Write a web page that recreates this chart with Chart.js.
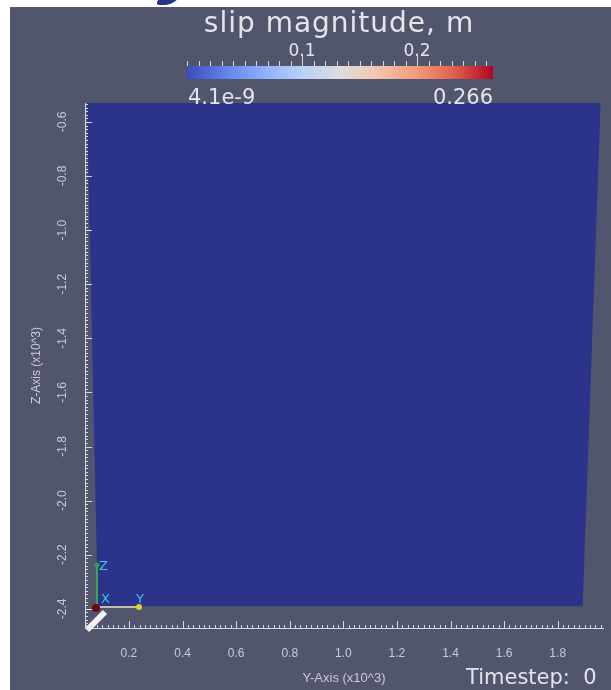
<!DOCTYPE html>
<html><head><meta charset="utf-8">
<script src="https://cdn.jsdelivr.net/npm/chart.js@4"></script>
<style>
html,body{margin:0;padding:0;background:#fff;}
body{width:611px;height:690px;position:relative;overflow:hidden;font-family:"DejaVu Sans",sans-serif;}
#c{position:absolute;left:0;top:0;display:block;}
.abs{position:absolute;white-space:pre;}
.strip{position:absolute;background:#fff;}
#swoosh{position:absolute;left:158px;top:-5px;width:20px;height:10px;background:#26358c;border-radius:0 0 12px 4px;transform:skewX(-25deg);}
.txt{color:#e4e4ea;line-height:1;}
#cbbar{position:absolute;left:187px;top:66px;width:306px;height:13px;
background:linear-gradient(to right,rgb(59,76,192) 0%,rgb(98,130,234) 12.5%,rgb(141,176,254) 25%,rgb(184,208,249) 37.5%,rgb(221,221,221) 50%,rgb(245,196,173) 62.5%,rgb(244,154,123) 75%,rgb(222,96,77) 87.5%,rgb(180,4,38) 100%);}
.cbtick{position:absolute;width:1px;background:#d8d8e0;}
</style></head>
<body>
<canvas id="c" width="611" height="690"></canvas>
<div class="strip" style="left:0;top:0;width:611px;height:7px"></div>
<div class="strip" style="left:0;top:0;width:10px;height:690px"></div>
<div id="swoosh"></div>
<div id="cb"></div>
<script>
// ---- data (Y-axis and Z-axis in units of 10^3) ----
const sliceY = [0.043, 1.960, 1.893, 0.084];   // corners of the fault slice, Y coordinate
const sliceZ = [-0.530, -0.530, -2.391, -2.391]; // corners of the fault slice, Z coordinate
const yAxisTicks = [0.2, 0.4, 0.6, 0.8, 1.0, 1.2, 1.4, 1.6, 1.8];
const zAxisTicks = [-0.6, -0.8, -1.0, -1.2, -1.4, -1.6, -1.8, -2.0, -2.2, -2.4];
const yAxisRange = [0.036, 1.969];
const zAxisRange = [-2.471, -0.530];
const colorRange = [4.1e-9, 0.266];
const colorTicks = [0.1, 0.2];
const colorLabels = ['4.1e-9', '0.266'];
const timestep = 0;

// ---- colour bar (HTML) ----
const cb = document.getElementById('cb');
const barL = 187, barW = 306;
const cpx = v => barL + (v - colorRange[0]) / (colorRange[1] - colorRange[0]) * barW;
function add(html, style, cls){ const d=document.createElement('div'); d.className=cls||'abs txt'; d.textContent=html; Object.assign(d.style, style); cb.appendChild(d); return d; }
add('slip magnitude, m', {left:'0px', top:'9px', width:'678px', textAlign:'center', fontSize:'28px', letterSpacing:'1px'});
const bar = document.createElement('div'); bar.id='cbbar'; cb.appendChild(bar);
for (let i = 0; i <= 26; i++) {
  const v = i * 0.01;
  const major = colorTicks.some(t => Math.abs(t - v) < 1e-9);
  const t = document.createElement('div'); t.className='cbtick';
  t.style.left = Math.round(cpx(v)) + 'px';
  t.style.top = (major ? 56 : 61) + 'px';
  t.style.height = (major ? 10 : 5) + 'px';
  cb.appendChild(t);
}
colorTicks.forEach(v => add(v.toFixed(1), {left:(cpx(v)-30)+'px', width:'60px', textAlign:'center', top:'42px', fontSize:'17px'}));
add(colorLabels[0], {left:'188px', top:'87px', fontSize:'21px'});
add(colorLabels[1], {left:'393px', width:'100px', textAlign:'right', top:'87px', fontSize:'21px'});
add('Timestep:  ' + timestep, {left:'466px', top:'667px', fontSize:'21px'});

// ---- chart ----
const tickColor = '#d6d6de';
const labelColor = '#cacad4';

const bgPlugin = {
  id: 'bg',
  beforeDraw(chart) {
    const ctx = chart.ctx; ctx.save();
    ctx.fillStyle = '#52566d'; ctx.fillRect(0, 0, chart.width, chart.height);
    ctx.restore();
  }
};

const tickPlugin = {
  id: 'minorTicks',
  afterDraw(chart) {
    const {ctx, chartArea: a} = chart;
    const xs = chart.scales.x, ys = chart.scales.y;
    ctx.save();
    ctx.strokeStyle = tickColor; ctx.lineWidth = 1;
    const xStep = 0.02;
    for (let k = Math.ceil(xs.min / xStep); k * xStep <= xs.max; k++) {
      const v = k * xStep;
      const major = yAxisTicks.some(t => Math.abs(t - v) < 1e-6);
      const px = Math.round(xs.getPixelForValue(v)) + 0.5;
      ctx.beginPath(); ctx.moveTo(px, a.bottom); ctx.lineTo(px, a.bottom - (major ? 7 : 3)); ctx.stroke();
    }
    const zStep = 0.2 / 15;
    for (let k = Math.ceil(-zAxisRange[1] / zStep); k * zStep <= -zAxisRange[0]; k++) {
      const v = -k * zStep;
      const major = zAxisTicks.some(t => Math.abs(t - v) < 1e-6);
      const py = Math.round(ys.getPixelForValue(v)) + 0.5;
      ctx.beginPath(); ctx.moveTo(a.left, py); ctx.lineTo(a.left + (major ? 7 : 3), py); ctx.stroke();
    }
    ctx.restore();
  },
  afterDatasetsDraw(chart) {
    const {ctx, chartArea: a} = chart;
    const ox = a.left + 12, oy = a.bottom - 21;
    ctx.save();
    ctx.lineWidth = 6; ctx.strokeStyle = '#f2f2f2'; ctx.lineCap = 'butt';
    ctx.beginPath(); ctx.moveTo(a.left + 2, a.bottom + 2); ctx.lineTo(ox + 8, oy + 5); ctx.stroke();
    ctx.lineWidth = 1.5;
    ctx.strokeStyle = '#3fbf3f';
    ctx.beginPath(); ctx.moveTo(ox, oy); ctx.lineTo(ox, oy - 44); ctx.stroke();
    ctx.strokeStyle = '#e8e8c0';
    ctx.beginPath(); ctx.moveTo(ox, oy); ctx.lineTo(ox + 44, oy); ctx.stroke();
    ctx.fillStyle = '#2fa02f'; ctx.beginPath(); ctx.arc(ox, oy - 42, 2.5, 0, Math.PI * 2); ctx.fill();
    ctx.fillStyle = '#d8d820'; ctx.beginPath(); ctx.arc(ox + 42, oy, 3, 0, Math.PI * 2); ctx.fill();
    ctx.fillStyle = '#6a0a0a'; ctx.beginPath(); ctx.arc(ox - 1, oy + 1, 4, 0, Math.PI * 2); ctx.fill();
    ctx.fillStyle = '#3cc8e6'; ctx.font = '13px "DejaVu Sans"'; ctx.textBaseline = 'middle';
    ctx.fillText('Z', ox + 2, oy - 40);
    ctx.fillText('X', ox + 4, oy - 7);
    ctx.fillText('Y', ox + 39, oy - 7);
    ctx.restore();
  }
};

new Chart(document.getElementById('c'), {
  type: 'scatter',
  data: {
    datasets: [{
      data: sliceY.map((v, i) => ({x: v, y: sliceZ[i]})).concat([{x: sliceY[0], y: sliceZ[0]}]),
      showLine: true,
      fill: 'shape',
      backgroundColor: 'rgb(43,51,138)',
      borderColor: 'rgb(43,51,138)',
      borderWidth: 0,
      pointRadius: 0,
      tension: 0
    }]
  },
  options: {
    responsive: false,
    animation: false,
    devicePixelRatio: 1,
    layout: {padding: {top: 103, right: 8, bottom: 0, left: 0}},
    plugins: {legend: {display: false}, tooltip: {enabled: false}, title: {display: false}},
    scales: {
      x: {
        type: 'linear', position: 'bottom',
        min: yAxisRange[0], max: yAxisRange[1],
        afterBuildTicks: s => { s.ticks = yAxisTicks.map(v => ({value: v})); },
        afterFit: s => { s.height = 62; },
        grid: {display: false, drawTicks: false},
        border: {display: true, color: tickColor, width: 1},
        ticks: {color: labelColor, font: {family: 'Liberation Sans', size: 12}, padding: 18, maxRotation: 0, autoSkip: false,
                callback: v => Number(v).toFixed(1)},
        title: {display: true, text: 'Y-Axis (x10^3)', color: labelColor, font: {family: 'Liberation Sans', size: 13}, padding: {top: 0, bottom: 4}}
      },
      y: {
        type: 'linear', position: 'left',
        min: zAxisRange[0], max: zAxisRange[1],
        afterBuildTicks: s => { s.ticks = zAxisTicks.map(v => ({value: v})); },
        afterFit: s => { s.width = 85; },
        grid: {display: false, drawTicks: false},
        border: {display: true, color: tickColor, width: 1},
        ticks: {color: labelColor, font: {family: 'Liberation Sans', size: 12}, padding: 12, minRotation: 90, maxRotation: 90,
                crossAlign: 'center', autoSkip: false, callback: v => Number(v).toFixed(1)},
        title: {display: true, text: 'Z-Axis (x10^3)', color: labelColor, font: {family: 'Liberation Sans', size: 12}, padding: {top: 29, bottom: 0}}
      }
    }
  },
  plugins: [bgPlugin, tickPlugin]
});
</script>
</body></html>
